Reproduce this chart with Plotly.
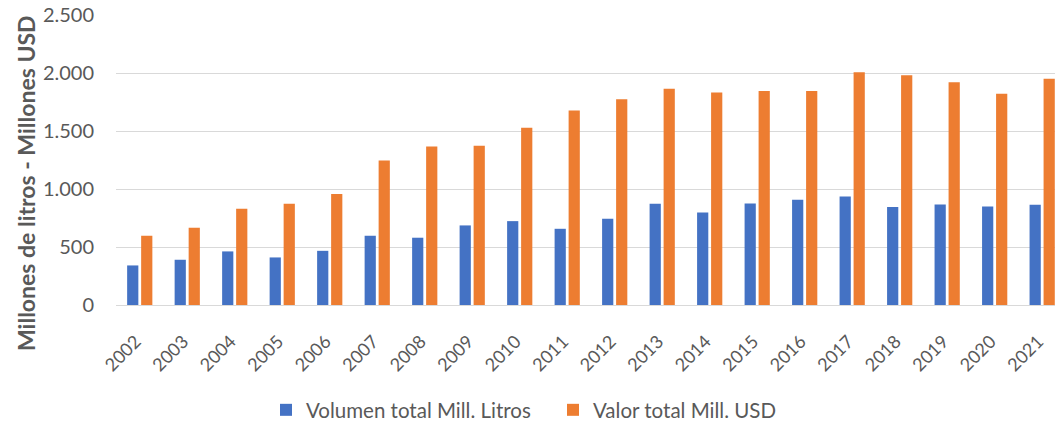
import plotly.graph_objects as go

years = [str(y) for y in range(2002, 2022)]
volumen = [341, 390, 462, 410, 467, 597, 580, 686, 723, 657,
           743, 872, 797, 875, 907, 935, 844, 866, 849, 864]
valor = [597, 666, 829, 872, 956, 1245, 1366, 1372, 1529, 1676,
         1774, 1865, 1831, 1845, 1845, 2006, 1980, 1920, 1822, 1951]
y_ticks = [0, 500, 1000, 1500, 2000, 2500]

FONT = "Lato"
GRAY = "#595959"

fig = go.Figure()
fig.add_trace(go.Bar(x=years, y=volumen, name="Volumen total Mill. Litros",
                     marker=dict(color="#4472C4", line=dict(width=0))))
fig.add_trace(go.Bar(x=years, y=valor, name="Valor total Mill. USD",
                     marker=dict(color="#ED7D31", line=dict(width=0))))

W, H = 1055, 424
L, R, T, B = 116, 0, 15, 119
plot_w = W - L - R
plot_h = H - T - B

fig.update_layout(
    width=W, height=H,
    margin=dict(l=L, r=R, t=T, b=B, pad=0),
    paper_bgcolor="white", plot_bgcolor="white",
    separators=",.",
    barmode="group", bargap=0.41, bargroupgap=0.2,
    font=dict(family=FONT, color=GRAY),
    showlegend=True,
    legend=dict(orientation="h", x=(266 - L) / plot_w, xanchor="left",
                yref="container", y=(H - 410) / H, yanchor="middle",
                font=dict(size=20.5, color=GRAY, family=FONT), itemwidth=30,
                entrywidth=242, traceorder="normal"),
    xaxis=dict(type="category", range=[-0.5, 19.27], tickangle=-45,
               tickfont=dict(size=18, color=GRAY), showgrid=False,
               showline=False, ticks="outside", ticklen=18, tickcolor="rgba(0,0,0,0)",
               ticklabelshift=-4),
    yaxis=dict(range=[0, 2500], tickvals=y_ticks, tickformat=",d",
               tickfont=dict(size=20, color=GRAY), showgrid=True,
               gridcolor="#D9D9D9", gridwidth=1, zeroline=True,
               zerolinecolor="#D9D9D9", zerolinewidth=1, showline=False,
               ticks="outside", ticklen=17, tickcolor="rgba(0,0,0,0)"),
    annotations=[dict(text="<b>Millones de litros - Millones USD</b>",
                      xref="paper", yref="paper", x=-(L - 26) / plot_w,
                      y=(H - B - 183) / plot_h,
                      xanchor="center", yanchor="middle", textangle=-90,
                      showarrow=False, font=dict(size=23, color=GRAY, family=FONT))],
)

fig.write_html("out.html", config={"displayModeBar": False},
               post_script="document.body.style.margin='0';")
